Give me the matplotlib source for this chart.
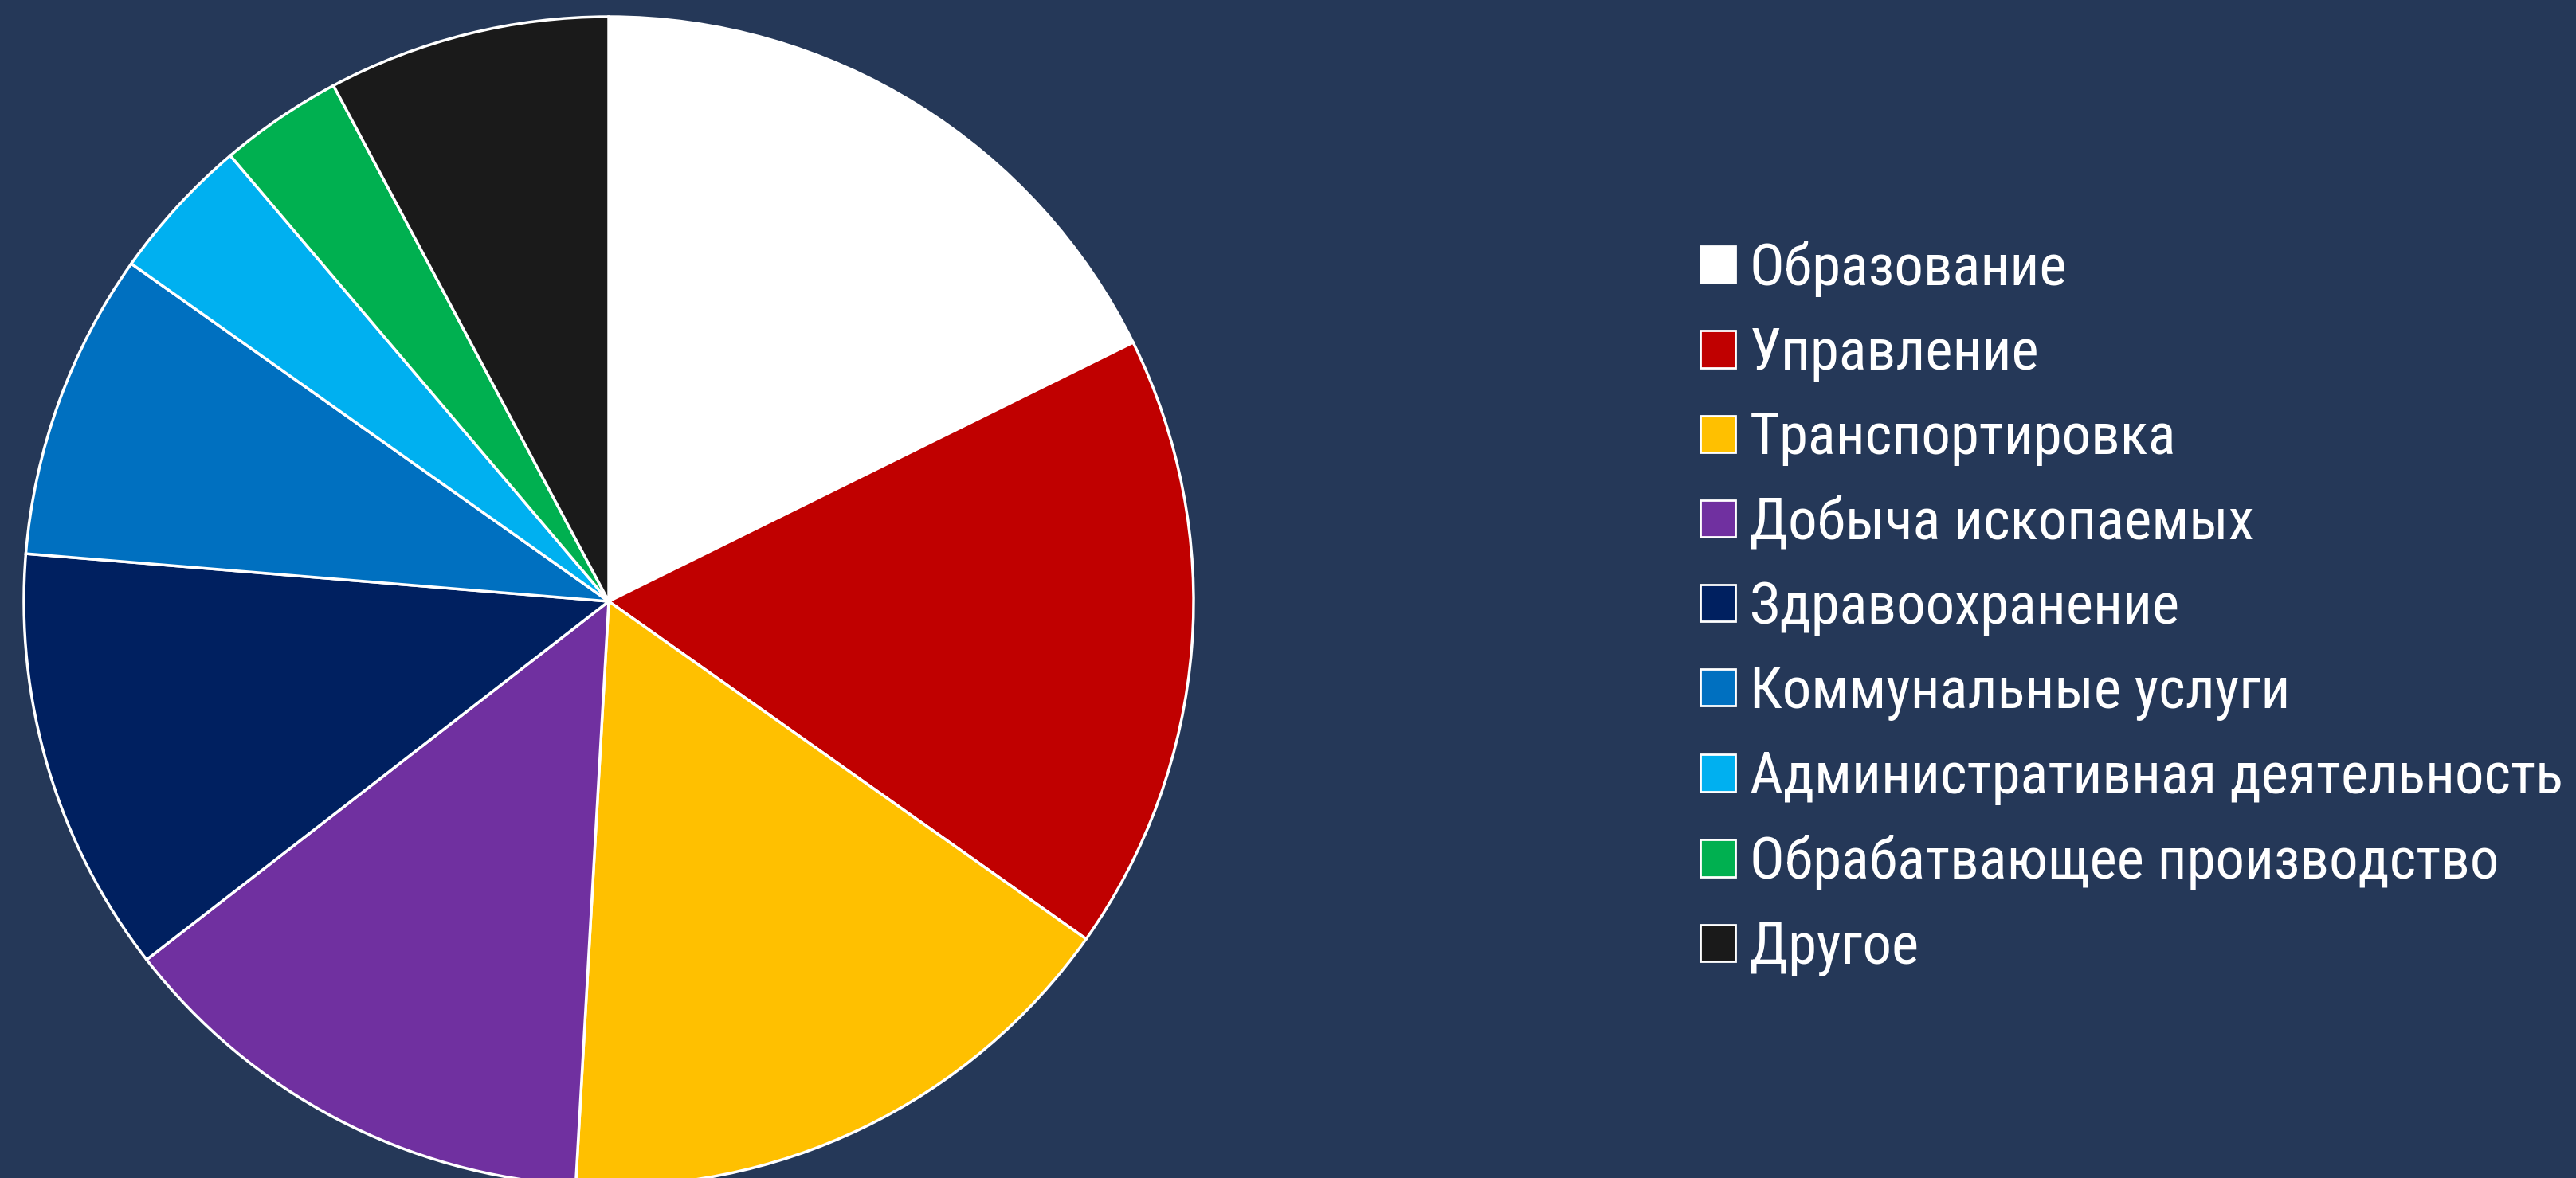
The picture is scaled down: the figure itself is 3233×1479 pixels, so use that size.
import matplotlib.pyplot as plt

# данные
labels = ["Образование", "Управление", "Транспортировка", "Добыча ископаемых",
          "Здравоохранение", "Коммунальные услуги", "Административная деятельность",
          "Обрабатвающее производство", "Другое"]
values = [17.7, 17.1, 16.1, 13.6, 11.8, 8.5, 4.0, 3.4, 7.8]
colors = ["#FFFFFF", "#C00000", "#FFC000", "#7030A0", "#002060",
          "#0070C0", "#00B0F0", "#00B050", "#1A1A1A"]

bg = "#253858"
W, H = 3233, 1479

plt.rcParams['font.family'] = ["Roboto Condensed", "Liberation Sans", "DejaVu Sans"]

fig = plt.figure(figsize=(W / 100, H / 100), dpi=100, facecolor=bg)

# круговая диаграмма
cx, cy, r = 764, 1479 - 755, 734
ax = fig.add_axes([(cx - r) / W, (cy - r) / H, 2 * r / W, 2 * r / H])
ax.set_facecolor(bg)
wedges, _ = ax.pie(values, colors=colors, startangle=90, counterclock=False,
                   radius=1, wedgeprops=dict(edgecolor="white", linewidth=2.5))
ax.set_xlim(-1, 1)
ax.set_ylim(-1, 1)
ax.set_aspect("equal")
ax.axis("off")

# легенда
leg = fig.legend(wedges, labels, loc="upper left", bbox_to_anchor=(2134 / W, 1 - 303 / H),
                 frameon=False, fontsize=52.5, labelcolor="white",
                 handlelength=0.6, handleheight=0.6, handletextpad=0.25,
                 labelspacing=0.51, borderpad=0, borderaxespad=0)
for h in leg.legend_handles:
    h.set_edgecolor("white")
    h.set_linewidth(2)

fig.savefig("out.png", dpi=100, facecolor=bg)
